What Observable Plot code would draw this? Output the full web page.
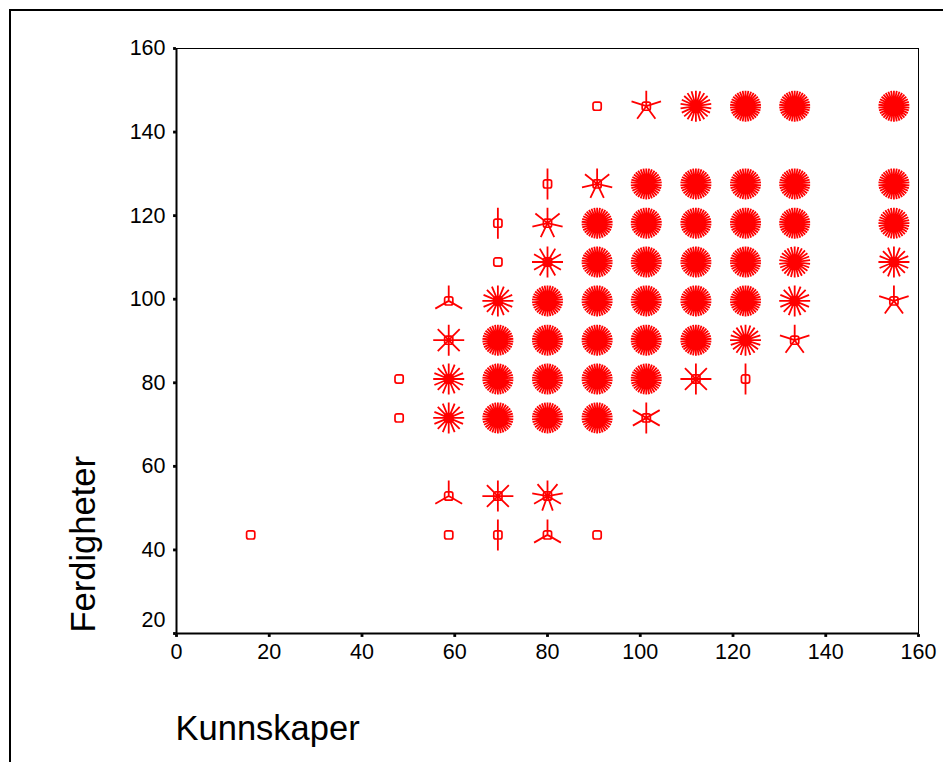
<!DOCTYPE html>
<html>
<head>
<meta charset="utf-8">
<script src="https://cdn.jsdelivr.net/npm/d3@7"></script>
<script src="https://cdn.jsdelivr.net/npm/@observablehq/plot@0.6"></script>
<style>
  body { margin: 0; background: #fff; }
  #wrap { position: relative; width: 943px; height: 762px; overflow: hidden; background: #fff; }
  #wrap svg { position: absolute; left: 0; top: 0; background: transparent; }
  #border { position: absolute; left: 9px; top: 9px; width: 2000px; height: 2000px;
            border-left: 2.5px solid #000; border-top: 2.5px solid #000; pointer-events: none; }
</style>
</head>
<body>
<div id="wrap"><div id="border"></div></div>
<script>
// Sunflower plot: each position with its number of cases (petals)
const kunnskaper = [
  90.7, 101.3, 112, 122.7, 133.3, 154.7,
  80, 90.7, 101.3, 112, 122.7, 133.3, 154.7,
  69.3, 80, 90.7, 101.3, 112, 122.7, 133.3, 154.7,
  69.3, 80, 90.7, 101.3, 112, 122.7, 133.3, 154.7,
  58.7, 69.3, 80, 90.7, 101.3, 112, 122.7, 133.3, 154.7,
  58.7, 69.3, 80, 90.7, 101.3, 112, 122.7, 133.3,
  48, 58.7, 69.3, 80, 90.7, 101.3, 112, 122.7,
  48, 58.7, 69.3, 80, 90.7, 101.3,
  58.7, 69.3, 80,
  16, 58.7, 69.3, 80, 90.7
];
const ferdigheter = [
  146.2, 146.2, 146.2, 146.2, 146.2, 146.2,
  127.6, 127.6, 127.6, 127.6, 127.6, 127.6, 127.6,
  118.2, 118.2, 118.2, 118.2, 118.2, 118.2, 118.2, 118.2,
  108.9, 108.9, 108.9, 108.9, 108.9, 108.9, 108.9, 108.9,
  99.6, 99.6, 99.6, 99.6, 99.6, 99.6, 99.6, 99.6, 99.6,
  90.2, 90.2, 90.2, 90.2, 90.2, 90.2, 90.2, 90.2,
  80.9, 80.9, 80.9, 80.9, 80.9, 80.9, 80.9, 80.9,
  71.6, 71.6, 71.6, 71.6, 71.6, 71.6,
  52.9, 52.9, 52.9,
  43.6, 43.6, 43.6, 43.6, 43.6
];
const antall = [
  1, 5, 22, 34, 34, 34,
  2, 7, 34, 34, 34, 34, 34,
  2, 7, 34, 34, 34, 34, 34, 32,
  1, 12, 34, 34, 34, 34, 26, 16,
  3, 16, 34, 34, 34, 34, 34, 16, 5,
  8, 34, 34, 34, 34, 34, 20, 5,
  1, 16, 34, 34, 34, 34, 8, 2,
  1, 16, 34, 34, 34, 6,
  3, 8, 9,
  1, 1, 2, 3, 1
];
const xTicks = [0, 20, 40, 60, 80, 100, 120, 140, 160];
const yTicks = [20, 40, 60, 80, 100, 120, 140, 160];
const xTitle = "Kunnskaper";
const yTitle = "Ferdigheter";

const points = kunnskaper.map((x, i) => ({x, y: ferdigheter[i], n: antall[i]}));

const PETAL = 15.5;
function sunflower(n) {
  return {
    draw(ctx) {
      for (let k = 0; k < n; k++) {
        const a = 2 * Math.PI * k / n;
        ctx.moveTo(0, 0);
        ctx.lineTo(PETAL * Math.sin(a), -PETAL * Math.cos(a));
      }
    }
  };
}
const roundSquare = {
  draw(ctx) {
    const h = 4.1, r = 2;
    ctx.moveTo(-h + r, -h);
    ctx.lineTo(h - r, -h);
    ctx.arcTo(h, -h, h, -h + r, r);
    ctx.lineTo(h, h - r);
    ctx.arcTo(h, h, h - r, h, r);
    ctx.lineTo(-h + r, h);
    ctx.arcTo(-h, h, -h, h - r, r);
    ctx.lineTo(-h, -h + r);
    ctx.arcTo(-h, -h, -h + r, -h, r);
    ctx.closePath();
  }
};

const petalCounts = Array.from(new Set(antall)).filter(n => n > 1);

const font = "'Liberation Sans', Arial, sans-serif";

const chart = Plot.plot({
  width: 943,
  height: 762,
  marginLeft: 176,
  marginRight: 25,
  marginTop: 48,
  marginBottom: 129,
  style: {fontFamily: font, background: "transparent", overflow: "visible"},
  x: {domain: [0, 160], axis: null},
  y: {domain: [20, 160], axis: null},
  marks: [
    Plot.frame({stroke: "#000", strokeWidth: 1}),
    Plot.ruleX([0], {stroke: "#000", strokeWidth: 2}),
    Plot.ruleY([20], {stroke: "#000", strokeWidth: 2}),
    // tick squares
    Plot.dot(xTicks, {x: d => d, frameAnchor: "bottom", dy: 2, symbol: "square", r: 1.6, fill: "#000", stroke: "none"}),
    Plot.dot(yTicks, {y: d => d, frameAnchor: "left", dx: -2, symbol: "square", r: 1.6, fill: "#000", stroke: "none"}),
    // tick labels
    Plot.text(xTicks, {x: d => d, text: d => String(d), frameAnchor: "bottom", dy: 19, lineAnchor: "middle", fontSize: 21.5, fill: "#000"}),
    Plot.text(yTicks.filter(d => d !== 20), {y: d => d, text: d => String(d), frameAnchor: "left", dx: -11, textAnchor: "end", lineAnchor: "middle", fontSize: 21.5, fill: "#000"}),
    Plot.text(yTicks.filter(d => d === 20), {y: d => d, text: d => String(d), frameAnchor: "left", dx: -11, dy: -13, textAnchor: "end", lineAnchor: "middle", fontSize: 21.5, fill: "#000"}),
    // axis titles
    Plot.text([xTitle], {text: d => d, frameAnchor: "bottom-left", dx: -1, dy: 95, textAnchor: "start", lineAnchor: "middle", fontSize: 34.5, fill: "#000"}),
    Plot.text([yTitle], {text: d => d, frameAnchor: "bottom-left", dx: -93, dy: -1, rotate: -90, textAnchor: "start", lineAnchor: "middle", fontSize: 34.5, fill: "#000"}),
    // sunflower centres
    Plot.dot(points, {x: "x", y: "y", symbol: roundSquare, r: 4, fill: "none", stroke: "#ff0000", strokeWidth: 1.7}),
    // petals
    ...petalCounts.map(n => Plot.dot(points.filter(p => p.n === n), {
      x: "x", y: "y", symbol: sunflower(n), r: 5, fill: "none", stroke: "#ff0000", strokeWidth: 1.8
    }))
  ]
});
document.getElementById("wrap").appendChild(chart);
</script>
</body>
</html>
